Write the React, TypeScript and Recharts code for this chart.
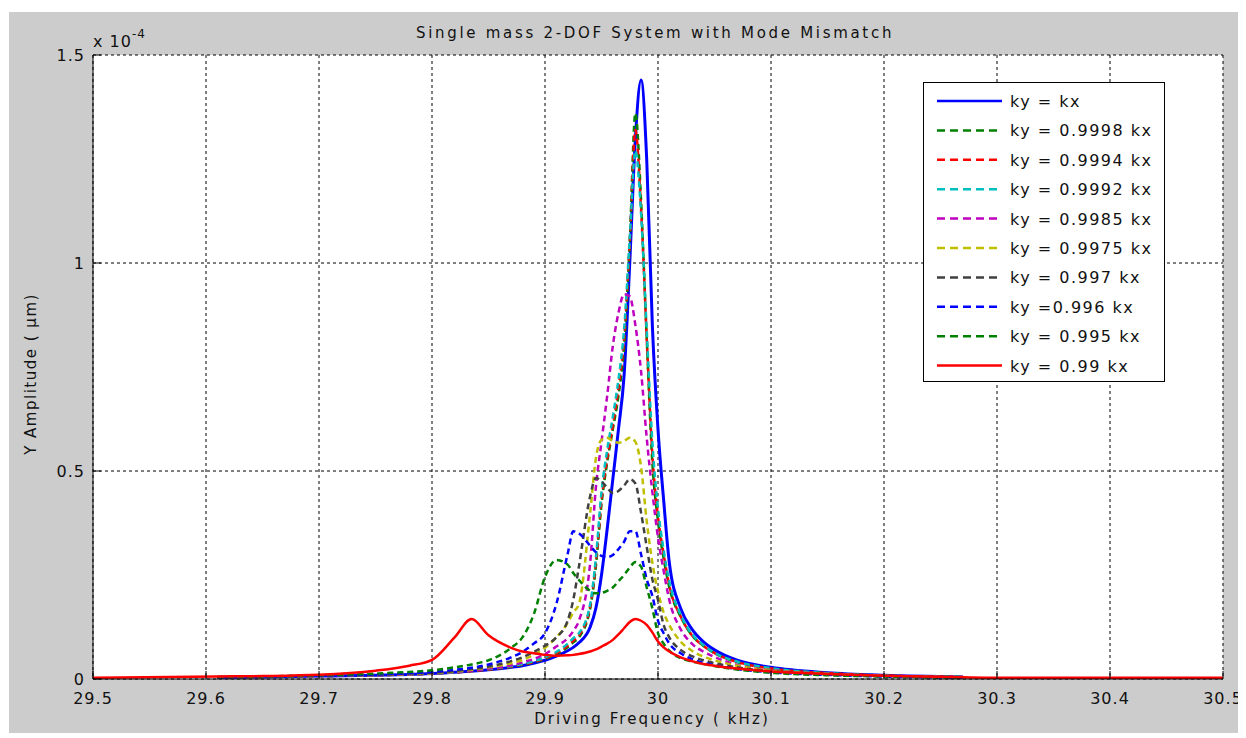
import React from 'react'
import { LineChart, Line, XAxis, YAxis, CartesianGrid, Legend } from 'recharts'

// driving frequency (kHz)
const freq = [
  29.5, 29.61, 29.65, 29.7, 29.75, 29.78, 29.8, 29.82, 29.835, 29.85, 29.87, 29.88, 29.89, 29.9, 29.91,
  29.92, 29.925, 29.93, 29.94, 29.945, 29.95, 29.955, 29.96, 29.965, 29.97, 29.975, 29.98, 29.985, 29.99,
  29.995, 30.0, 30.005, 30.01, 30.02, 30.03, 30.04, 30.05, 30.07, 30.1, 30.15, 30.2, 30.27, 30.3, 30.5,
]

// Y amplitude, x 1e-4 um
const kyEqual = [
  null, 0.004, 0.005, 0.007, 0.009, 0.011, 0.013, 0.016, 0.019, 0.022, 0.028, 0.032, 0.038, 0.045, 0.055,
  0.068, 0.076, 0.087, 0.125, 0.17, 0.25, 0.36, 0.48, 0.6, 0.73, 1.0, 1.3, 1.44, 1.25,
  0.85, 0.6, 0.43, 0.28, 0.17, 0.12, 0.09, 0.07, 0.045, 0.028, 0.015, 0.009, 0.005, null, null,
]
const ky9998 = [
  null, 0.004, 0.005, 0.007, 0.009, 0.011, 0.013, 0.016, 0.019, 0.023, 0.029, 0.034, 0.04, 0.048, 0.06,
  0.076, 0.088, 0.1, 0.17, 0.27, 0.42, 0.52, 0.6, 0.68, 0.8, 1.05, 1.36, 1.15, 0.82,
  0.52, 0.38, 0.29, 0.22, 0.15, 0.105, 0.08, 0.062, 0.041, 0.025, 0.014, 0.008, 0.005, null, null,
]
const ky9994 = [
  null, 0.004, 0.005, 0.007, 0.009, 0.011, 0.013, 0.016, 0.019, 0.023, 0.03, 0.035, 0.041, 0.05, 0.062,
  0.08, 0.092, 0.105, 0.175, 0.28, 0.43, 0.53, 0.61, 0.7, 0.82, 1.05, 1.32, 1.13, 0.82,
  0.54, 0.39, 0.3, 0.225, 0.15, 0.105, 0.08, 0.062, 0.041, 0.025, 0.014, 0.008, 0.005, null, null,
]
const ky9992 = [
  null, 0.004, 0.005, 0.007, 0.009, 0.011, 0.013, 0.016, 0.02, 0.024, 0.031, 0.036, 0.043, 0.052, 0.065,
  0.085, 0.098, 0.11, 0.18, 0.29, 0.45, 0.55, 0.63, 0.72, 0.84, 1.06, 1.27, 1.12, 0.84,
  0.57, 0.41, 0.31, 0.235, 0.155, 0.108, 0.082, 0.063, 0.042, 0.026, 0.014, 0.008, 0.005, null, null,
]
const ky9985 = [
  null, 0.004, 0.005, 0.007, 0.009, 0.011, 0.013, 0.017, 0.02, 0.025, 0.033, 0.04, 0.048, 0.06, 0.078,
  0.098, 0.115, 0.14, 0.28, 0.46, 0.57, 0.68, 0.8, 0.88, 0.925, 0.92, 0.85, 0.74, 0.58,
  0.45, 0.34, 0.26, 0.19, 0.12, 0.085, 0.066, 0.053, 0.034, 0.022, 0.012, 0.007, 0.004, null, null,
]
const ky9975 = [
  null, 0.004, 0.005, 0.008, 0.01, 0.012, 0.014, 0.018, 0.022, 0.028, 0.038, 0.046, 0.058, 0.075, 0.1,
  0.135, 0.16, 0.18, 0.4, 0.53, 0.575, 0.58, 0.572, 0.568, 0.572, 0.58, 0.57, 0.51, 0.38,
  0.28, 0.21, 0.16, 0.13, 0.09, 0.068, 0.054, 0.045, 0.032, 0.021, 0.012, 0.007, 0.004, null, null,
]
const ky997 = [
  null, 0.004, 0.005, 0.008, 0.01, 0.013, 0.015, 0.019, 0.024, 0.03, 0.043, 0.052, 0.065, 0.08, 0.1,
  0.14, 0.19, 0.27, 0.44, 0.483, 0.475, 0.46, 0.447, 0.452, 0.465, 0.48, 0.47, 0.4, 0.318,
  0.24, 0.19, 0.13, 0.1, 0.07, 0.055, 0.045, 0.038, 0.028, 0.019, 0.011, 0.007, 0.004, null, null,
]
const ky996 = [
  null, 0.004, 0.006, 0.008, 0.011, 0.014, 0.017, 0.022, 0.027, 0.035, 0.052, 0.065, 0.085, 0.11, 0.18,
  0.3, 0.355, 0.35, 0.32, 0.305, 0.296, 0.293, 0.298, 0.312, 0.33, 0.355, 0.355, 0.3, 0.24,
  0.2, 0.14, 0.11, 0.085, 0.062, 0.048, 0.039, 0.033, 0.024, 0.016, 0.01, 0.006, 0.003, null, null,
]
const ky995 = [
  null, 0.005, 0.006, 0.009, 0.013, 0.017, 0.021, 0.028, 0.035, 0.045, 0.075, 0.1, 0.155, 0.245, 0.286,
  0.275, 0.255, 0.238, 0.212, 0.206, 0.207, 0.212, 0.22, 0.235, 0.25, 0.268, 0.281, 0.27, 0.22,
  0.17, 0.11, 0.085, 0.068, 0.05, 0.042, 0.036, 0.031, 0.023, 0.015, 0.009, 0.006, 0.003, null, null,
]
const ky99 = [
  0.003, 0.006, 0.007, 0.01, 0.02, 0.032, 0.046, 0.1, 0.144, 0.105, 0.075, 0.066, 0.062, 0.058, 0.056,
  0.057, 0.058, 0.06, 0.066, 0.071, 0.078, 0.085, 0.094, 0.107, 0.122, 0.137, 0.144, 0.14, 0.13,
  0.112, 0.09, 0.076, 0.066, 0.052, 0.043, 0.036, 0.032, 0.025, 0.018, 0.012, 0.008, 0.004, 0.003, 0.003,
]

const xTicks = [29.5, 29.6, 29.7, 29.8, 29.9, 30, 30.1, 30.2, 30.3, 30.4, 30.5]
const yTicks = [0, 0.5, 1, 1.5]

const series = [
  { key: 'kyEqual', name: 'ky = kx', values: kyEqual, color: '#0000ff', dashed: false },
  { key: 'ky9998', name: 'ky = 0.9998 kx', values: ky9998, color: '#008000', dashed: true },
  { key: 'ky9994', name: 'ky = 0.9994 kx', values: ky9994, color: '#ff0000', dashed: true },
  { key: 'ky9992', name: 'ky = 0.9992 kx', values: ky9992, color: '#00bfbf', dashed: true },
  { key: 'ky9985', name: 'ky = 0.9985 kx', values: ky9985, color: '#bf00bf', dashed: true },
  { key: 'ky9975', name: 'ky = 0.9975 kx', values: ky9975, color: '#bfbf00', dashed: true },
  { key: 'ky997', name: 'ky = 0.997 kx', values: ky997, color: '#404040', dashed: true },
  { key: 'ky996', name: 'ky =0.996 kx', values: ky996, color: '#0000ff', dashed: true },
  { key: 'ky995', name: 'ky = 0.995 kx', values: ky995, color: '#008000', dashed: true },
  { key: 'ky99', name: 'ky = 0.99 kx', values: ky99, color: '#ff0000', dashed: false },
]

const data = freq.map((f, i) => {
  const row: Record<string, number | null> = { f }
  series.forEach((s) => {
    row[s.key] = s.values[i]
  })
  return row
})

const FONT = '"DejaVu Sans", sans-serif'
const fmt = (v: number) => String(Number(v.toFixed(1)))

const BottomTick = ({ x, y, payload }: any) => (
  <g>
    <line x1={x} x2={x} y1={y} y2={y - 8} stroke="#000" />
    <text x={x} y={y + 25} textAnchor="middle" fontSize={16} fontFamily={FONT} fill="#111" style={{ letterSpacing: 1 }}>
      {fmt(payload.value)}
    </text>
  </g>
)
const TopTick = ({ x, y }: any) => <line x1={x} x2={x} y1={y} y2={y + 8} stroke="#000" />
const LeftTick = ({ x, y, payload }: any) => (
  <g>
    <line x1={x} x2={x + 8} y1={y} y2={y} stroke="#000" />
    <text x={x - 8} y={y + 6} textAnchor="end" fontSize={16} fontFamily={FONT} fill="#111" style={{ letterSpacing: 1 }}>
      {fmt(payload.value)}
    </text>
  </g>
)
const RightTick = ({ x, y }: any) => <line x1={x} x2={x - 8} y1={y} y2={y} stroke="#000" />

const LegendBox = () => (
  <svg width={242} height={300} style={{ display: 'block' }}>
    <rect x={0.5} y={0.5} width={241} height={299} fill="#fff" stroke="#000" />
    {series.map((s, i) => {
      const cy = 19 + i * 29.4
      return (
        <g key={s.key}>
          <line
            x1={14}
            x2={79}
            y1={cy}
            y2={cy}
            stroke={s.color}
            strokeWidth={2.5}
            strokeDasharray={s.dashed ? '8 5' : undefined}
          />
          <text x={87} y={cy + 6} fontSize={16} fontFamily={FONT} fill="#111" style={{ letterSpacing: 1.5 }}>
            {s.name}
          </text>
        </g>
      )
    })}
  </svg>
)

export default function App() {
  return (
    <div style={{ paddingTop: 4, paddingLeft: 1 }}>
      <div style={{ position: 'relative', width: 1238, height: 721, background: '#cccccc' }}>
        <LineChart width={1238} height={721} data={data} margin={{ top: 43, right: 24, bottom: 24, left: 24 }}>
          <CartesianGrid stroke="#000" strokeDasharray="3 3" fill="#fff" fillOpacity={1} />
          <XAxis
            dataKey="f"
            type="number"
            domain={[29.5, 30.5]}
            ticks={xTicks}
            interval={0}
            height={30}
            tickSize={0}
            tickMargin={0}
            tickLine={false}
            axisLine={{ stroke: '#000' }}
            tick={<BottomTick />}
          />
          <XAxis
            xAxisId="top"
            orientation="top"
            dataKey="f"
            type="number"
            domain={[29.5, 30.5]}
            ticks={xTicks}
            interval={0}
            height={0}
            tickSize={0}
            tickMargin={0}
            tickLine={false}
            axisLine={{ stroke: '#000' }}
            tick={<TopTick />}
          />
          <YAxis
            type="number"
            domain={[0, 1.5]}
            ticks={yTicks}
            interval={0}
            width={60}
            tickSize={0}
            tickMargin={0}
            tickLine={false}
            axisLine={{ stroke: '#000' }}
            tick={<LeftTick />}
          />
          <YAxis
            yAxisId="right"
            orientation="right"
            type="number"
            domain={[0, 1.5]}
            ticks={yTicks}
            interval={0}
            width={0}
            tickSize={0}
            tickMargin={0}
            tickLine={false}
            axisLine={{ stroke: '#000' }}
            tick={<RightTick />}
          />
          {series.map((s) => (
            <Line
              key={s.key}
              dataKey={s.key}
              name={s.name}
              type="monotone"
              stroke={s.color}
              strokeWidth={s.key === 'kyEqual' ? 3 : 2.5}
              strokeDasharray={s.dashed ? '6 4' : undefined}
              dot={false}
              activeDot={false}
              isAnimationActive={false}
            />
          ))}
          <Legend
            layout="vertical"
            align="center"
            verticalAlign="middle"
            wrapperStyle={{ top: 70, left: 914, width: 242, height: 300 }}
            content={() => <LegendBox />}
          />
        </LineChart>
        <svg width={1238} height={721} style={{ position: 'absolute', left: 0, top: 0, pointerEvents: 'none' }}>
          <text x={646} y={26} textAnchor="middle" fontSize={15} fontFamily={FONT} fill="#111" style={{ letterSpacing: 2.7 }}>
            Single mass 2-DOF System with Mode Mismatch
          </text>
          <text x={84} y={35} fontSize={16} fontFamily={FONT} fill="#111" style={{ letterSpacing: 1 }}>
            x 10
            <tspan dy={-9} fontSize={12}>
              -4
            </tspan>
          </text>
          <text x={643} y={712} textAnchor="middle" fontSize={15} fontFamily={FONT} fill="#111" style={{ letterSpacing: 2.1 }}>
            Driving Frequency ( kHz)
          </text>
          <text
            x={0}
            y={0}
            transform="translate(27 362) rotate(-90)"
            textAnchor="middle"
            fontSize={15}
            fontFamily={FONT}
            fill="#111"
            style={{ letterSpacing: 1.5 }}
          >
            Y Amplitude ( μm)
          </text>
        </svg>
      </div>
    </div>
  )
}
